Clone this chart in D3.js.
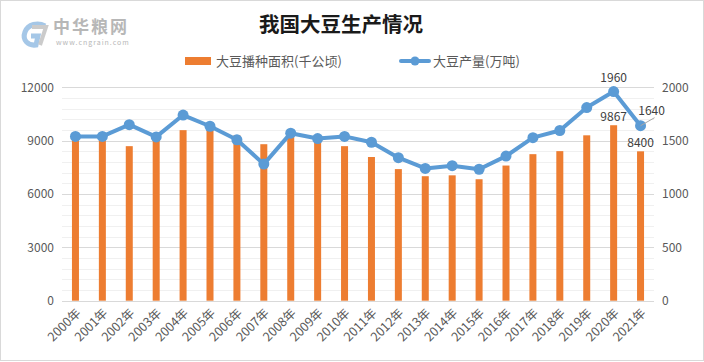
<!DOCTYPE html>
<html><head><meta charset="utf-8">
<script src="https://cdn.jsdelivr.net/npm/d3@7"></script>
<style>body{margin:0;background:#fff}svg{display:block}</style>
</head><body>
<svg id="c" width="704" height="362"></svg>
<script>
const years = ["2000年","2001年","2002年","2003年","2004年","2005年","2006年","2007年","2008年","2009年","2010年","2011年","2012年","2013年","2014年","2015年","2016年","2017年","2018年","2019年","2020年","2021年"];
const area = [9300,9300,8690,9260,9590,9680,9300,8800,9200,9030,8690,8080,7400,7000,7050,6830,7600,8240,8410,9300,9867,8400];
const output = [1540,1540,1650,1535,1740,1635,1508,1280,1570,1520,1540,1485,1340,1240,1265,1232,1355,1528,1595,1810,1960,1640];
const leftTicks = [0,3000,6000,9000,12000];
const rightTicks = [0,500,1000,1500,2000];
const title = "我国大豆生产情况";
const legendNames = ["大豆播种面积(千公顷)","大豆产量(万吨)"];

const svg = d3.select("#c");
const W=704,H=362;
const font = "'Noto Sans CJK SC','Noto Sans',sans-serif";
svg.append("rect").attr("x",0.5).attr("y",0.5).attr("width",W-1).attr("height",H-2).attr("fill","#fff").attr("stroke","#d9d9d9");

const x0=62,x1=654,yT=87.3,yB=300.7;
const x = d3.scaleBand().domain(years).range([x0,x1]);
const yL = d3.scaleLinear().domain([0,12000]).range([yB,yT]);
const yR = d3.scaleLinear().domain([0,2000]).range([yB,yT]);

// minor grid
svg.append("g").selectAll("line").data(d3.range(0,12001,600).filter(v=>v%3000!==0)).join("line")
 .attr("x1",x0).attr("x2",x1).attr("y1",d=>Math.round(yL(d))+0.5).attr("y2",d=>Math.round(yL(d))+0.5)
 .attr("stroke","#f0f0f0");
svg.append("g").selectAll("line").data(leftTicks).join("line")
 .attr("x1",x0).attr("x2",x1).attr("y1",d=>Math.round(yL(d))+0.5).attr("y2",d=>Math.round(yL(d))+0.5)
 .attr("stroke","#d9d9d9");

// axes
const gl = svg.append("g").attr("transform",`translate(${x0-8},0)`)
 .call(d3.axisLeft(yL).tickValues(leftTicks).tickFormat(d3.format("d")).tickSize(0).tickPadding(0));
const gr = svg.append("g").attr("transform",`translate(${x1+8},0)`)
 .call(d3.axisRight(yR).tickValues(rightTicks).tickFormat(d3.format("d")).tickSize(0).tickPadding(0));
[gl,gr].forEach(g=>{g.select(".domain").remove();g.selectAll("text").attr("fill","#595959").style("font-family",font).style("font-size","12px");});

// bars
svg.append("g").selectAll("rect").data(area).join("rect")
 .attr("x",(d,i)=>x(years[i])+x.bandwidth()/2-3.5).attr("width",7)
 .attr("y",d=>yL(d)).attr("height",d=>yB-yL(d)).attr("fill","#ED7D31");

// line
const line = d3.line().x((d,i)=>x(years[i])+x.bandwidth()/2).y(d=>yR(d));
svg.append("path").datum(output).attr("d",line).attr("fill","none").attr("stroke","#5B9BD5").attr("stroke-width",4).attr("stroke-linejoin","round");
svg.append("g").selectAll("circle").data(output).join("circle")
 .attr("cx",(d,i)=>x(years[i])+x.bandwidth()/2).attr("cy",d=>yR(d)).attr("r",5.5).attr("fill","#5B9BD5");

// x labels
svg.append("g").selectAll("text").data(years).join("text")
 .attr("transform",d=>`translate(${x(d)+x.bandwidth()/2+3},${yB+10}) rotate(-45)`)
 .attr("text-anchor","end").attr("dy","0.35em")
 .attr("fill","#595959").style("font-family",font).style("font-size","12.5px").text(d=>d);

// data labels
const lab = (t,xx,yy,anchor)=>svg.append("text").attr("x",xx).attr("y",yy).attr("text-anchor",anchor||"middle")
 .attr("fill","#404040").style("font-family",font).style("font-size","12px").text(t);
const c20 = x(years[20])+x.bandwidth()/2, c21 = x(years[21])+x.bandwidth()/2;
lab(String(output[20]),c20,yR(output[20])-10);
lab(String(area[20]),c20,yL(area[20])-4);
lab(String(area[21]),c21,yL(area[21])-4);
svg.append("line").attr("x1",c21).attr("y1",yR(output[21])).attr("x2",c21+14).attr("y2",yR(output[21])-8).attr("stroke","#a6a6a6").attr("stroke-width",1);
lab(String(output[21]),c21+11,yR(output[21])-11);

// title
svg.append("text").attr("x",341).attr("y",32).attr("text-anchor","middle").attr("fill","#1a1a1a")
 .style("font-family",font).style("font-size","20.5px").style("font-weight","bold").text(title);

// legend
svg.append("rect").attr("x",185).attr("y",57).attr("width",26).attr("height",8).attr("fill","#ED7D31");
svg.append("text").attr("x",216).attr("y",66).attr("fill","#595959").style("font-family",font).style("font-size","13px").text(legendNames[0]);
svg.append("line").attr("x1",401).attr("x2",429).attr("y1",61).attr("y2",61).attr("stroke","#5B9BD5").attr("stroke-width",4).attr("stroke-linecap","round");
svg.append("circle").attr("cx",415).attr("cy",61).attr("r",4.5).attr("fill","#5B9BD5");
svg.append("text").attr("x",433).attr("y",66).attr("fill","#595959").style("font-family",font).style("font-size","13px").text(legendNames[1]);

// logo
const lg = svg.append("g").attr("opacity",0.6);
lg.append("path").attr("d","M45,26 C38,22 28,24 25,32 C22,40 28,46 36,45 L38,36 L31,36").attr("fill","none").attr("stroke","#6aa2d8").attr("stroke-width",5);
lg.append("path").attr("d","M32,27 L46,27 L40,45").attr("fill","none").attr("stroke","#aaaaaa").attr("stroke-width",4);
lg.append("text").attr("x",53).attr("y",33).attr("fill","#888").style("font-family",font).style("font-size","17px").style("font-weight","bold").style("letter-spacing","2px").text("中华粮网");
lg.append("text").attr("x",56).attr("y",45).attr("fill","#888").style("font-family",font).style("font-size","7px").style("letter-spacing","1px").text("www.cngrain.com");
</script>
</body></html>
